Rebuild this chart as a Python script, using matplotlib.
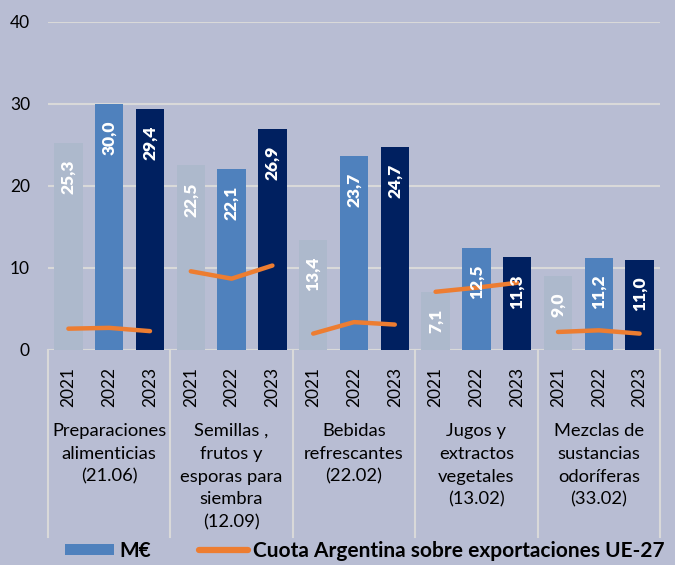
import matplotlib.pyplot as plt
from matplotlib.lines import Line2D
from matplotlib.patches import Patch

categories = ["Preparaciones\nalimenticias\n(21.06)",
              "Semillas ,\nfrutos y\nesporas para\nsiembra\n(12.09)",
              "Bebidas\nrefrescantes\n(22.02)",
              "Jugos y\nextractos\nvegetales\n(13.02)",
              "Mezclas de\nsustancias\nodoríferas\n(33.02)"]
years = ["2021", "2022", "2023"]
valores = [[25.3, 30.0, 29.4],
           [22.5, 22.1, 26.9],
           [13.4, 23.7, 24.7],
           [7.1, 12.5, 11.3],
           [9.0, 11.2, 11.0]]
cuota = [[2.6, 2.7, 2.3],
         [9.6, 8.7, 10.3],
         [2.0, 3.4, 3.1],
         [7.1, 7.6, 8.2],
         [2.2, 2.4, 2.0]]

bg = "#B8BDD3"
bar_colors = ["#ADB9CC", "#4F81BD", "#002060"]
orange = "#ED7D31"
grid_c = "#D9D9D9"

plt.rcParams['font.family'] = ['Lato', 'DejaVu Sans']

fig = plt.figure(figsize=(6.75, 5.65), dpi=100, facecolor=bg)
ax = fig.add_axes([48 / 675, 1 - 350 / 565, 612 / 675, 328 / 565])
ax.set_facecolor(bg)

ng = len(categories)
for i in range(ng):
    xs = [i * 3 + j for j in range(3)]
    for j in range(3):
        v = valores[i][j]
        ax.bar(xs[j], v, width=0.7, color=bar_colors[j], zorder=2)
        ax.annotate(f"{v:.1f}".replace(".", ","), (xs[j], v),
                    xytext=(0, -12), textcoords="offset points",
                    rotation=90, ha="center", va="top", color="white",
                    fontsize=12.5, fontweight="heavy", zorder=4)
    ax.plot(xs, cuota[i], color=orange, lw=3.2, solid_capstyle="round", zorder=3)

ax.set_xlim(-0.5, ng * 3 - 0.5)
ax.set_ylim(0, 40)
ax.set_yticks([0, 10, 20, 30, 40])
ax.tick_params(axis="y", length=0, pad=13, labelsize=12.5)
ax.yaxis.grid(True, color=grid_c, lw=1.5, zorder=0)
ax.set_axisbelow(True)
for s in ax.spines.values():
    s.set_visible(False)

ax.set_xticks(range(ng * 3))
ax.set_xticklabels(years * ng, rotation=90, fontsize=12.5)
ax.tick_params(axis="x", length=0, pad=12)
for lbl in ax.get_xticklabels():
    lbl.set_verticalalignment("top")

ax.axhline(0, color=grid_c, lw=1.5, zorder=1)

# separators and category names below the axis
tr = ax.get_xaxis_transform()
for k in range(ng + 1):
    x = k * 3 - 0.5
    ax.add_line(Line2D([x, x], [0, -0.57], transform=tr, color=grid_c,
                       lw=1.5, clip_on=False))
for i, c in enumerate(categories):
    ax.text(i * 3 + 1, -0.222, c, transform=tr, ha="center", va="top",
            fontsize=13.2, linespacing=1.53)

handles = [Patch(facecolor=bar_colors[1], edgecolor="none"),
           Line2D([], [], color=orange, lw=4.5, solid_capstyle="round")]
leg = fig.legend(handles, ["M€", "Cuota Argentina sobre exportaciones UE-27"],
                 loc="center", bbox_to_anchor=(0.541, 0.025), ncol=2,
                 frameon=False, handlelength=2.35, handleheight=0.5,
                 columnspacing=2.3, handletextpad=0.25,
                 prop={"weight": "bold", "size": 15})

fig.savefig("out.png", dpi=100, facecolor=bg)
